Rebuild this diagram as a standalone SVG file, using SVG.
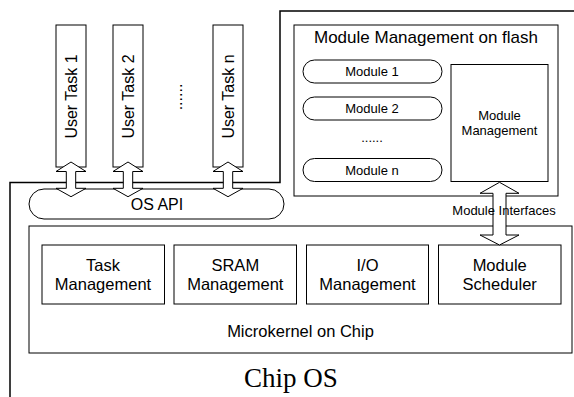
<svg xmlns="http://www.w3.org/2000/svg" width="574" height="397" viewBox="0 0 574 397">
  <style>
    .box { fill: #fff; stroke: #000; stroke-width: 1; }
    .arrow { fill: #fff; stroke: #000; stroke-width: 1; stroke-linejoin: miter; }
    .frame { fill: none; stroke: #000; stroke-width: 1.5; }
    .t { font-family: "Liberation Sans", Arial, sans-serif; fill: #000; text-anchor: middle; }
    .s13 { font-size: 13px; }
    .s16 { font-size: 16px; }
    .s17 { font-size: 16.5px; }
  </style>
  <rect width="574" height="397" fill="#fff"/>

  <!-- outer boundary of the Chip OS -->
  <polyline class="frame" points="10,397 10,182.5 280,182.5 280,11 574,11"/>

  <!-- user tasks -->
  <g id="user-task-1">
    <rect class="box" x="56" y="25" width="30" height="142"/>
    <text class="t s16" transform="translate(77,96.5) rotate(-90)">User Task 1</text>
  </g>
  <g id="user-task-2">
    <rect class="box" x="113" y="25" width="30" height="142"/>
    <text class="t s16" transform="translate(134,96.5) rotate(-90)">User Task 2</text>
  </g>
  <g id="user-task-dots">
    <text class="t s16" transform="translate(182,97) rotate(-90)">......</text>
  </g>
  <g id="user-task-n">
    <rect class="box" x="213" y="25" width="30" height="142"/>
    <text class="t s16" transform="translate(234,96.5) rotate(-90)">User Task n</text>
  </g>

  <!-- OS API -->
  <g id="os-api">
    <rect class="box" x="29" y="189" width="255" height="30" rx="15" ry="15"/>
    <text class="t s16" x="157" y="209.5">OS API</text>
  </g>

  <!-- Module management on flash -->
  <g id="module-flash">
    <rect class="box" x="294" y="25" width="264" height="171"/>
    <text class="t" x="426" y="43" font-size="17">Module Management on flash</text>
  </g>
  <g id="module-1">
    <rect class="box" x="303" y="60" width="139" height="23" rx="11.5" ry="11.5"/>
    <text class="t s13" x="372" y="76">Module 1</text>
  </g>
  <g id="module-2">
    <rect class="box" x="303" y="97" width="139" height="23" rx="11.5" ry="11.5"/>
    <text class="t s13" x="372" y="113">Module 2</text>
  </g>
  <g id="module-dots">
    <text class="t s13" x="372" y="142">......</text>
  </g>
  <g id="module-n">
    <rect class="box" x="303" y="158.5" width="139" height="23" rx="11.5" ry="11.5"/>
    <text class="t s13" x="372" y="174.5">Module n</text>
  </g>
  <g id="module-management">
    <rect class="box" x="451" y="64.5" width="97" height="117"/>
    <text class="t s13" x="499.5" y="120">Module</text>
    <text class="t s13" x="499.5" y="135">Management</text>
  </g>

  <!-- Microkernel on chip -->
  <g id="microkernel">
    <rect class="box" x="29" y="226" width="543" height="127"/>
    <text class="t s17" x="300.5" y="336.5">Microkernel on Chip</text>
  </g>
  <g id="task-management">
    <rect class="box" x="42" y="245" width="122.5" height="59"/>
    <text class="t s17" x="103" y="270.5">Task</text>
    <text class="t s17" x="103" y="290">Management</text>
  </g>
  <g id="sram-management">
    <rect class="box" x="174" y="245" width="122.5" height="59"/>
    <text class="t s17" x="235.3" y="270.5">SRAM</text>
    <text class="t s17" x="235.3" y="290">Management</text>
  </g>
  <g id="io-management">
    <rect class="box" x="306.5" y="245" width="122" height="59"/>
    <text class="t s17" x="367.5" y="270.5">I/O</text>
    <text class="t s17" x="367.5" y="290">Management</text>
  </g>
  <g id="module-scheduler">
    <rect class="box" x="438.5" y="245" width="122.5" height="59"/>
    <text class="t s17" x="499.7" y="270.5">Module</text>
    <text class="t s17" x="499.7" y="290">Scheduler</text>
  </g>

  <!-- connectors: double-headed block arrows -->
  <g id="connectors">
    <polygon class="arrow" points="71,162 86,171.5 75.7,171.5 75.7,188.3 86,188.3 71,196.7 56,188.3 66.3,188.3 66.3,171.5 56,171.5"/>
    <polygon class="arrow" points="128,162 143,171.5 132.7,171.5 132.7,188.3 143,188.3 128,196.7 113,188.3 123.3,188.3 123.3,171.5 113,171.5"/>
    <polygon class="arrow" points="228,162 243,171.5 232.7,171.5 232.7,188.3 243,188.3 228,196.7 213,188.3 223.3,188.3 223.3,171.5 213,171.5"/>
    <polygon class="arrow" points="499.5,182.3 519,193.3 506,193.3 506,235 519,235 499.5,245 480,235 493,235 493,193.3 480,193.3"/>
    <text class="t s13" x="504" y="214.5">Module Interfaces</text>
  </g>

  <text x="291" y="386.5" font-family="'Liberation Serif', 'Times New Roman', serif" font-size="27" text-anchor="middle" fill="#000">Chip OS</text>
</svg>
